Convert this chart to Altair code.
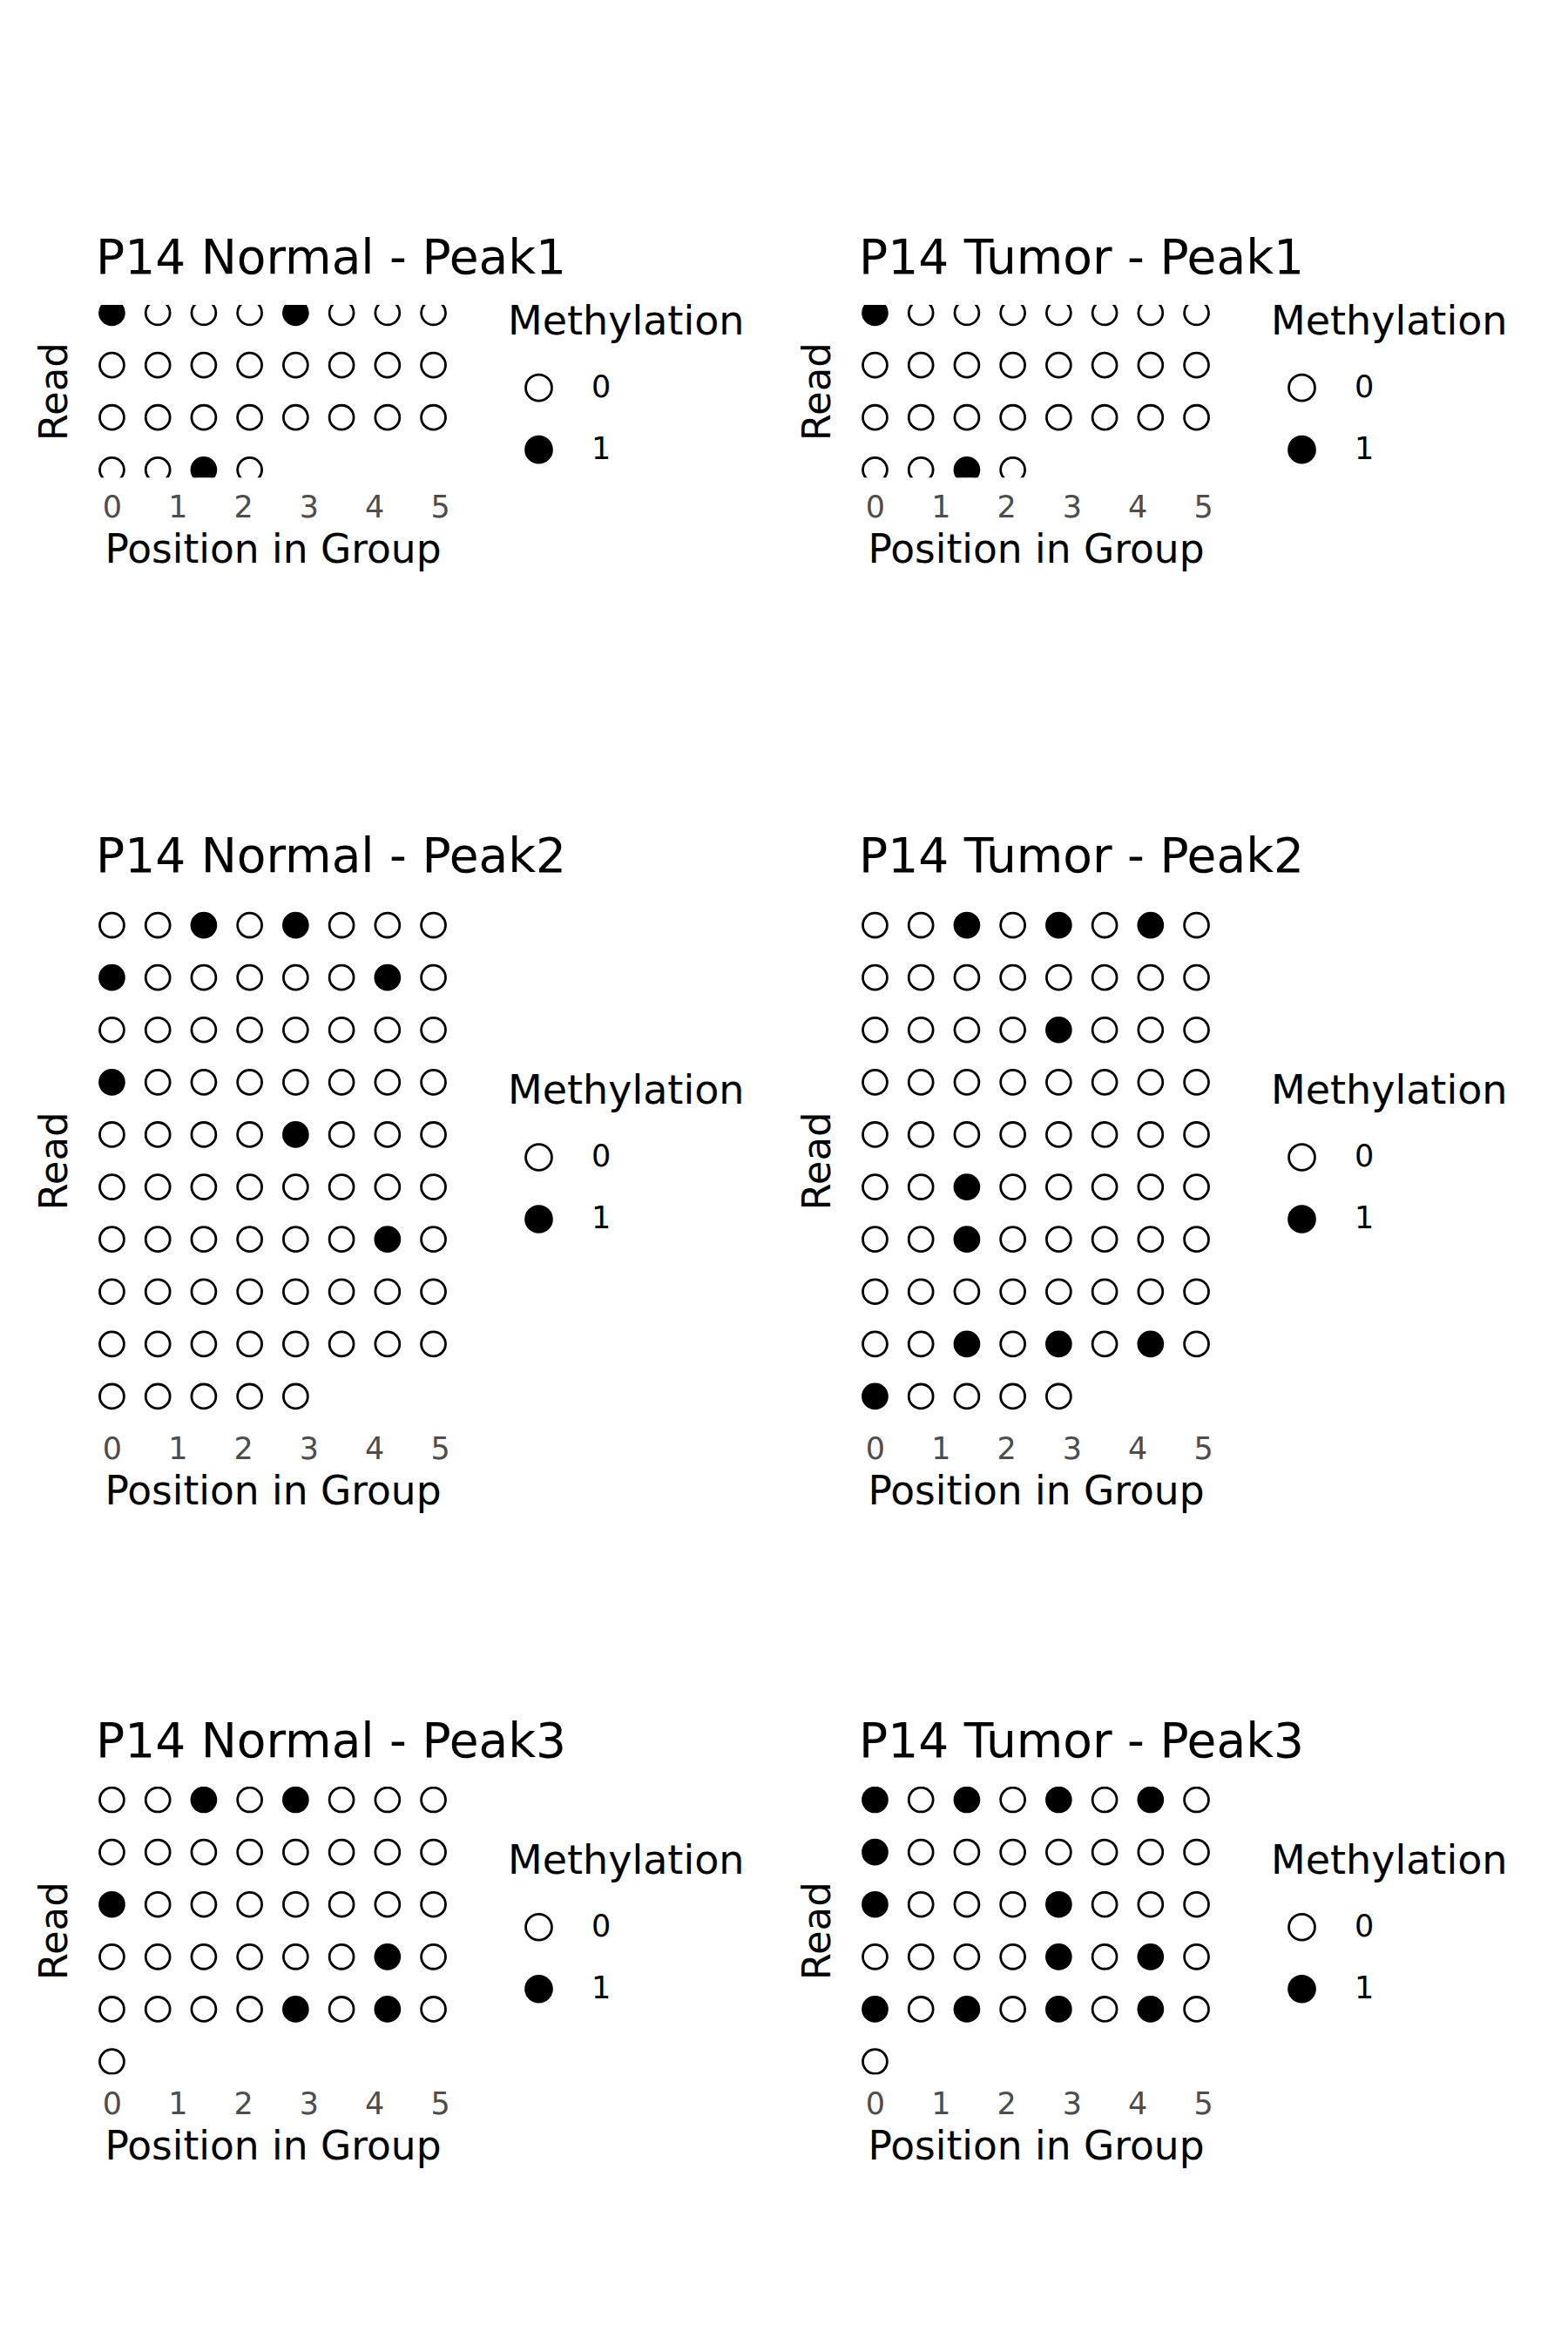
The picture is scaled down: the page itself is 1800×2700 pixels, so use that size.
import altair as alt
import pandas as pd

FONT = "DejaVu Sans"

# ---- data (1 = methylated, 0 = unmethylated) ----
x_positions = [0.0, 0.7, 1.4, 2.1, 2.8, 3.5, 4.2, 4.9]
x_ticks = [0, 1, 2, 3, 4, 5]

normal_peak1 = [
    [1, 0, 0, 0, 1, 0, 0, 0],
    [0, 0, 0, 0, 0, 0, 0, 0],
    [0, 0, 0, 0, 0, 0, 0, 0],
    [0, 0, 1, 0],
]
tumor_peak1 = [
    [1, 0, 0, 0, 0, 0, 0, 0],
    [0, 0, 0, 0, 0, 0, 0, 0],
    [0, 0, 0, 0, 0, 0, 0, 0],
    [0, 0, 1, 0],
]
normal_peak2 = [
    [0, 0, 1, 0, 1, 0, 0, 0],
    [1, 0, 0, 0, 0, 0, 1, 0],
    [0, 0, 0, 0, 0, 0, 0, 0],
    [1, 0, 0, 0, 0, 0, 0, 0],
    [0, 0, 0, 0, 1, 0, 0, 0],
    [0, 0, 0, 0, 0, 0, 0, 0],
    [0, 0, 0, 0, 0, 0, 1, 0],
    [0, 0, 0, 0, 0, 0, 0, 0],
    [0, 0, 0, 0, 0, 0, 0, 0],
    [0, 0, 0, 0, 0],
]
tumor_peak2 = [
    [0, 0, 1, 0, 1, 0, 1, 0],
    [0, 0, 0, 0, 0, 0, 0, 0],
    [0, 0, 0, 0, 1, 0, 0, 0],
    [0, 0, 0, 0, 0, 0, 0, 0],
    [0, 0, 0, 0, 0, 0, 0, 0],
    [0, 0, 1, 0, 0, 0, 0, 0],
    [0, 0, 1, 0, 0, 0, 0, 0],
    [0, 0, 0, 0, 0, 0, 0, 0],
    [0, 0, 1, 0, 1, 0, 1, 0],
    [1, 0, 0, 0, 0],
]
normal_peak3 = [
    [0, 0, 1, 0, 1, 0, 0, 0],
    [0, 0, 0, 0, 0, 0, 0, 0],
    [1, 0, 0, 0, 0, 0, 0, 0],
    [0, 0, 0, 0, 0, 0, 1, 0],
    [0, 0, 0, 0, 1, 0, 1, 0],
    [0],
]
tumor_peak3 = [
    [1, 0, 1, 0, 1, 0, 1, 0],
    [1, 0, 0, 0, 0, 0, 0, 0],
    [1, 0, 0, 0, 1, 0, 0, 0],
    [0, 0, 0, 0, 1, 0, 1, 0],
    [1, 0, 1, 0, 1, 0, 1, 0],
    [0],
]

panel_titles = [
    "P14 Normal - Peak1", "P14 Tumor - Peak1",
    "P14 Normal - Peak2", "P14 Tumor - Peak2",
    "P14 Normal - Peak3", "P14 Tumor - Peak3",
]
panel_data = [normal_peak1, tumor_peak1, normal_peak2, tumor_peak2, normal_peak3, tumor_peak3]

# ---- styling ----
ROW_PX = 60.1
PLOT_W = 406


def make_df(rows):
    recs = []
    for r, row in enumerate(rows):
        for c, v in enumerate(row):
            recs.append({"pos": x_positions[c], "read": r, "m": str(v)})
    return pd.DataFrame(recs)


def panel(title, rows):
    span = len(rows) - 1
    h = span * 1.1 * ROW_PX
    legend_y = (h - 203) / 2
    df = make_df(rows)
    return (
        alt.Chart(df)
        .mark_point(shape="circle", filled=True, size=778, stroke="black",
                    strokeWidth=2.8, opacity=1, clip=True)
        .encode(
            x=alt.X("pos:Q",
                    scale=alt.Scale(domain=[-0.245, 5.145], nice=False, zero=False),
                    axis=alt.Axis(title="Position in Group", values=x_ticks, format="d",
                                  ticks=False, domain=False, grid=False,
                                  labelPadding=17, titlePadding=9, minExtent=0,
                                  labelFontSize=35, labelColor="#4d4d4d", labelFont=FONT,
                                  titleFontSize=45.5, titleFontWeight="normal",
                                  titleColor="black", titleFont=FONT)),
            y=alt.Y("read:Q",
                    scale=alt.Scale(domain=[-0.05 * span, 1.05 * span], reverse=True,
                                    nice=False, zero=False),
                    axis=alt.Axis(title="Read", labels=False, ticks=False, domain=False,
                                  grid=False, minExtent=0, titlePadding=34,
                                  titleBaseline="alphabetic",
                                  titleFontSize=45, titleFontWeight="normal",
                                  titleColor="black", titleFont=FONT)),
            fill=alt.Fill("m:N",
                          scale=alt.Scale(domain=["0", "1"], range=["white", "black"]),
                          legend=alt.Legend(title="Methylation", orient="none",
                                            legendX=473, legendY=legend_y,
                                            titleFontSize=46, titleFontWeight="normal",
                                            titleColor="black", titleFont=FONT,
                                            titlePadding=34, titleLimit=1000,
                                            labelFontSize=35, labelColor="black",
                                            labelFont=FONT, labelOffset=43,
                                            labelLimit=1000,
                                            symbolOffset=18, rowPadding=28,
                                            symbolType="circle", symbolSize=894,
                                            symbolStrokeColor="black",
                                            symbolStrokeWidth=2.8)),
        )
        .properties(
            width=PLOT_W, height=h,
            title=alt.TitleParams(title, anchor="start", frame="group", offset=-21,
                                  baseline="alphabetic", fontSize=55,
                                  fontWeight="normal", font=FONT, color="black"),
        )
    )


panels = [panel(t, d) for t, d in zip(panel_titles, panel_data)]


def hrow(a, b):
    return (alt.hconcat(a, b, spacing=61)
            .resolve_scale(x="independent", y="independent", fill="independent")
            .resolve_legend(fill="independent"))


row1 = hrow(panels[0], panels[1])
row2 = hrow(panels[2], panels[3])
row3 = hrow(panels[4], panels[5])

lower = (alt.vconcat(row2, row3, spacing=236)
         .resolve_scale(x="independent", y="independent", fill="independent")
         .resolve_legend(fill="independent"))

chart = (
    alt.vconcat(row1, lower, spacing=302)
    .resolve_scale(x="independent", y="independent", fill="independent")
    .resolve_legend(fill="independent")
    .properties(padding={"top": 269, "left": 40, "right": 40, "bottom": 200},
                background="white")
    .configure_view(strokeWidth=0)
)

chart.save("out.html", embed_options={"renderer": "svg", "actions": False})
